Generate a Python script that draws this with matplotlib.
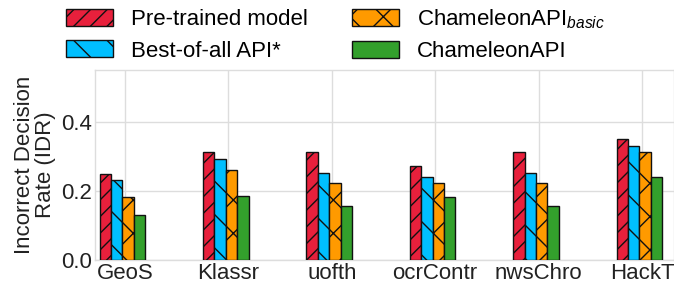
import matplotlib
matplotlib.use("Agg")
import matplotlib.pyplot as plt
import numpy as np

plt.rcParams['font.family'] = ['Liberation Sans', 'DejaVu Sans']
plt.rcParams['mathtext.fontset'] = 'custom'
plt.rcParams['mathtext.rm'] = 'Liberation Sans'
plt.rcParams['mathtext.it'] = 'Liberation Sans:italic'
plt.rcParams['hatch.linewidth'] = 1.0
plt.rcParams['hatch.color'] = 'black'

categories = ["GeoS", "Klassr", "uofth", "ocrContr", "nwsChro", "HackT"]
series_names = ["Pre-trained model", "Best-of-all API*",
                r"ChameleonAPI$_{basic}$", "ChameleonAPI"]
pretrained = [0.249, 0.314, 0.312, 0.272, 0.312, 0.351]
best_of_all = [0.232, 0.292, 0.251, 0.241, 0.251, 0.330]
cham_basic = [0.182, 0.261, 0.222, 0.222, 0.222, 0.312]
chameleon = [0.130, 0.186, 0.156, 0.182, 0.156, 0.241]
yticks = [0.0, 0.2, 0.4]

series = [pretrained, best_of_all, cham_basic, chameleon]
colors = ['#e8203c', '#00bfff', '#ff9a00', '#33a02c']
hatches = ['//', '\\', 'x', '']

fig = plt.figure(figsize=(6.74, 2.84), dpi=100)
ax = fig.add_axes([95/674, 24/284, (674-95)/674, 190/284])

x = np.arange(len(categories))
w = 0.11
for k, (vals, c, h, name) in enumerate(zip(series, colors, hatches, series_names)):
    ax.bar(x + (k - 1.5) * w - 0.025, vals, width=w, color=c, hatch=h,
           edgecolor='#111111', linewidth=1.0, label=name, zorder=3)

ax.set_xlim(-0.29, 5.31)
ax.set_ylim(0, 0.55)
ax.set_xticks(x)
ax.set_xticklabels(categories, fontsize=16, color='#222222')
ax.set_yticks(yticks)
ax.set_yticklabels([f"{t:.1f}" for t in yticks], fontsize=16, color='#222222')
ax.tick_params(length=0, pad=2)
ax.grid(True, color='#dddddd', linewidth=1.0, zorder=0)
ax.set_axisbelow(True)
for s in ax.spines.values():
    s.set_color('#dddddd')
    s.set_linewidth(1.0)
ax.set_ylabel("Incorrect Decision\nRate (IDR)", fontsize=16, color='#222222',
              linespacing=1.0, labelpad=4)

handles, labels = ax.get_legend_handles_labels()
fig.legend(handles, labels, loc='upper left', bbox_to_anchor=(62/674, 1 - 3/284),
           ncol=2, frameon=False, fontsize=16, handlelength=2.1,
           handleheight=0.8, handletextpad=0.8, columnspacing=2.0,
           labelspacing=0.45, borderpad=0.2, borderaxespad=0)

fig.savefig("out.png", dpi=100)
